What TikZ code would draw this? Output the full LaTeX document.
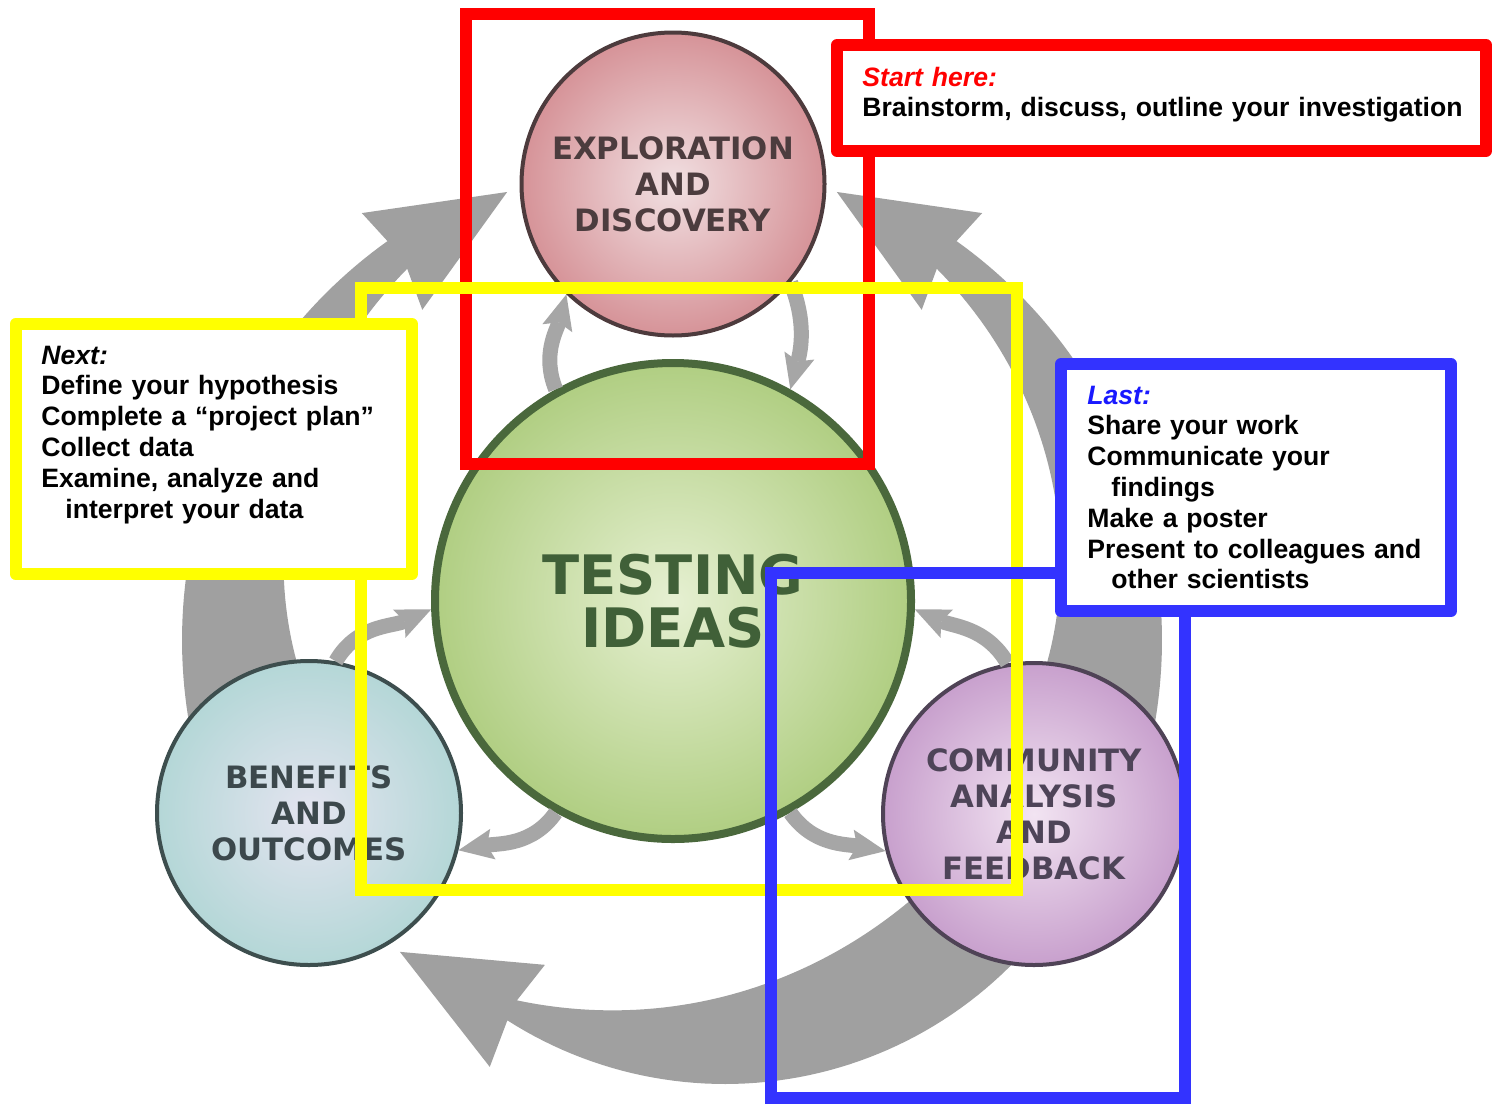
\documentclass[tikz,border=0pt]{standalone}
\usepackage{fontspec}
\setmainfont{Liberation Sans}
\newfontfamily\circfont{DejaVu Sans}
\usetikzlibrary{arrows.meta}
\definecolor{arrgray}{RGB}{160,160,160}
\definecolor{smallgray}{RGB}{166,166,166}
\definecolor{frRed}{RGB}{255,0,0}
\definecolor{frYellow}{RGB}{255,255,0}
\definecolor{frBlue}{RGB}{51,51,255}
\definecolor{txtBlue}{RGB}{25,25,255}
\definecolor{explIn}{RGB}{241,224,226}
\definecolor{explOut}{RGB}{214,147,152}
\definecolor{explLine}{RGB}{77,59,61}
\definecolor{explText}{RGB}{76,60,62}
\definecolor{testIn}{RGB}{230,240,210}
\definecolor{testOut}{RGB}{176,206,130}
\definecolor{testLine}{RGB}{74,104,60}
\definecolor{testText}{RGB}{64,96,56}
\definecolor{benIn}{RGB}{228,228,240}
\definecolor{benOut}{RGB}{180,215,215}
\definecolor{benLine}{RGB}{61,78,78}
\definecolor{benText}{RGB}{60,72,76}
\definecolor{comIn}{RGB}{242,228,242}
\definecolor{comOut}{RGB}{200,160,205}
\definecolor{comLine}{RGB}{79,67,86}
\definecolor{comText}{RGB}{78,68,88}
\tikzset{
  circnode/.style={circle, align=center, inner sep=0pt,
    font={\circfont\bfseries\fontsize{15.4pt}{18pt}\selectfont}},
  smallarr/.style={draw=smallgray, line width=7.5pt,
    -{Stealth[length=17.5pt,width=15.5pt,inset=3pt,line width=0pt]}},
  frame/.style={line width=6pt},
  smallbox/.style={rectangle, line width=6pt, fill=white, line join=round, inner sep=0pt},
  boxtext/.style={anchor=base west, inner sep=0pt, align=left, text width=340pt,
    font={\bfseries\fontsize{13.3pt}{15.4pt}\selectfont}}
}
\newcommand\sidearrowshape{%
  \fill[arrgray] plot[domain=-15:54.5,samples=60] ({672+490*cos(\x)},{640-490*sin(\x)})
   -- ({672+527.7*cos(54)},{640-527.7*sin(54)})
   -- ({672+477.4*cos(69.8)},{640-477.4*sin(69.8)})
   -- ({672+414*cos(52.9)},{640-414*sin(52.9)})
   -- ({672+456*cos(54.5)},{640-456*sin(54.5)})
   -- plot[domain=54.5:-15,samples=60] ({672+(384+1.385*(\x-2.5))*cos(\x)},{640-(384+1.385*(\x-2.5))*sin(\x)})
   -- cycle;}
\begin{document}
\begin{tikzpicture}[x=0.5pt,y=-0.5pt]
\fill[white] (0,0) rectangle (1493,1103);
\useasboundingbox (0,0) rectangle (1493,1103);

% big cycle arrows
\sidearrowshape
\begin{scope}[xshift=672pt, xscale=-1]
\sidearrowshape
\end{scope}
\fill[arrgray] plot[domain=35:122.6,samples=60] ({725+404*cos(\x)},{680+404*sin(\x)})
   -- ({725+452.8*cos(121.3)},{680+452.8*sin(121.3)})
   -- ({725+423.8*cos(140.1)},{680+423.8*sin(140.1)})
   -- ({725+337*cos(122.3)},{680+337*sin(122.3)})
   -- ({725+381.6*cos(123)},{680+381.6*sin(123)})
   -- plot[domain=123:35,samples=60] ({725+(288+0.01764*(max(\x-50,0))^2)*cos(\x)},{680+(288+0.01764*(max(\x-50,0))^2)*sin(\x)})
   -- cycle;

% circles
\node[circnode, minimum size=151.5pt, line width=2pt, draw=explLine,
      inner color=explIn, outer color=explOut, text=explText] (expl) at (673,184)
      {EXPLORATION\\AND\\DISCOVERY};
\node[circle, align=center, inner sep=0pt, minimum size=238pt, line width=4pt, draw=testLine,
      inner color=testIn, outer color=testOut, text=testText,
      font={\circfont\bfseries\fontsize{27.2pt}{26.5pt}\selectfont}] (test) at (673,601)
      {TESTING\\IDEAS};
\node[circnode, minimum size=152pt, line width=2pt, draw=benLine,
      inner color=benIn, outer color=benOut, text=benText] (ben) at (309,813)
      {BENEFITS\\AND\\OUTCOMES};
\node[circnode, minimum size=151pt, line width=2pt, draw=comLine,
      inner color=comIn, outer color=comOut, text=comText] (comm) at (1034,814)
      {COMMUNITY\\ANALYSIS\\AND\\FEEDBACK};

% small arrows between circles
\begin{scope}[on background layer/.style={}]
\end{scope}
\draw[smallarr] (test.119) to[out=112, in=-105] (expl.226);
\draw[smallarr] (expl.-40) to[out=-68, in=75] (test.61.5);
\draw[smallarr] (test.241) to[out=235, in=10] (ben.-14);
\draw[smallarr] (ben.80) to[out=60, in=204] (test.182);
\draw[smallarr] (test.-61) to[out=-55, in=170] (comm.194);
\draw[smallarr] (comm.100) to[out=120, in=-24] (test.-2);

% frames
\draw[frame, frRed] (466,14) rectangle (869,464);
\draw[frame, frYellow] (361,288) rectangle (1017,889.5);
\draw[frame, frBlue] (771,572.5) rectangle (1185,1098);

% text boxes
\node[smallbox, draw=frRed, minimum width=324.5pt, minimum height=53pt] (startbox) at (1161.5,98) {};
\node[smallbox, draw=frYellow, minimum width=198.2pt, minimum height=125pt] (nextbox) at (213.8,449) {};
\node[smallbox, draw=frBlue, minimum width=195pt, minimum height=123.5pt] (lastbox) at (1256,487.5) {};

\node[boxtext] (starttext) at (862,86)
  {{\color{frRed}\itshape Start here:}\\
   Brainstorm, discuss, outline your investigation};
\node[boxtext] (nexttext) at (41,364)
  {{\itshape Next:}\\
   Define your hypothesis\\
   Complete a “project plan”\\
   Collect data\\
   Examine, analyze and\\
   \hspace*{12pt}interpret your data};
\node[boxtext] (lasttext) at (1087,404)
  {{\color{txtBlue}\itshape Last:}\\
   Share your work\\
   Communicate your\\
   \hspace*{12pt}findings\\
   Make a poster\\
   Present to colleagues and\\
   \hspace*{12pt}other scientists};
\end{tikzpicture}
\end{document}
